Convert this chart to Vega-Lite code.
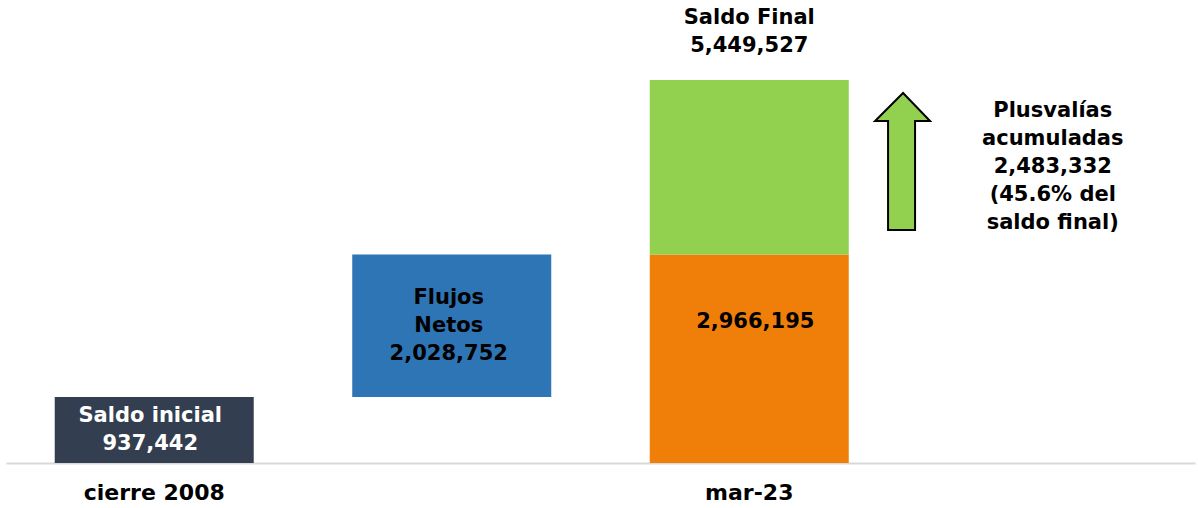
{
  "$schema": "https://vega.github.io/schema/vega-lite/v6.json",
  "width": 1189,
  "height": 463,
  "autosize": {"type": "none"},
  "padding": {"left": 6, "top": 0, "right": 3, "bottom": 45},
  "background": "white",
  "config": {
    "view": {"stroke": null},
    "font": "DejaVu Sans",
    "text": {"font": "DejaVu Sans", "fontWeight": "bold", "fontSize": 21, "lineHeight": 28, "baseline": "middle", "align": "center"}
  },
  "datasets": {
    "bars": [
      {"cat": "cierre 2008", "seg": "Saldo inicial", "start": 0, "end": 937442},
      {"cat": "flujos", "seg": "Flujos Netos", "start": 937442, "end": 2966194},
      {"cat": "mar-23", "seg": "Aportaciones netas", "start": 0, "end": 2966195},
      {"cat": "mar-23", "seg": "Plusvalías", "start": 2966195, "end": 5449527}
    ],
    "labels": [
      {"cat": "cierre 2008", "start": 0, "end": 937442, "text": "Saldo inicial\n937,442", "kind": "first"},
      {"cat": "flujos", "start": 937442, "end": 2966194, "text": "Flujos\nNetos\n2,028,752", "kind": "flows"},
      {"cat": "extra", "start": 2966195, "end": 5449527, "text": "Plusvalías\nacumuladas\n2,483,332\n(45.6% del\nsaldo final)", "kind": "side"},
      {"cat": "mar-23", "start": 0, "end": 2966195, "text": "2,966,195", "kind": "orange"},
      {"cat": "mar-23", "start": 5449527, "end": 5449527, "text": "Saldo Final\n5,449,527", "kind": "top"}
    ],
    "arrow": [
      {"cat": "extra", "start": 2966195, "end": 5449527}
    ]
  },
  "encoding": {
    "x": {
      "field": "cat",
      "type": "nominal",
      "sort": ["cierre 2008", "flujos", "mar-23", "extra"],
      "scale": {"domain": ["cierre 2008", "flujos", "mar-23", "extra"], "paddingInner": 0.3311, "paddingOuter": 0.1638},
      "axis": {
        "title": null,
        "domainColor": "#D9D9D9",
        "domainWidth": 2,
        "ticks": false,
        "grid": false,
        "labelAngle": 0,
        "labelFont": "DejaVu Sans",
        "labelFontWeight": "bold",
        "labelFontSize": 22,
        "labelColor": "black",
        "labelPadding": 19,
        "labelExpr": "datum.value == 'flujos' || datum.value == 'extra' ? '' : datum.value"
      }
    }
  },
  "layer": [
    {
      "data": {"name": "bars"},
      "mark": {"type": "bar", "width": {"band": 1}},
      "encoding": {
        "y": {"field": "start", "type": "quantitative", "scale": {"domain": [0, 6587830], "nice": false, "zero": true}, "axis": null},
        "y2": {"field": "end"},
        "color": {
          "field": "seg",
          "type": "nominal",
          "scale": {"domain": ["Saldo inicial", "Flujos Netos", "Aportaciones netas", "Plusvalías"], "range": ["#333F50", "#2E75B6", "#F07F09", "#92D050"]},
          "legend": null
        }
      }
    },
    {
      "data": {"name": "arrow"},
      "transform": [{"calculate": "(datum.start + datum.end) / 2", "as": "mid"}],
      "mark": {
        "type": "point",
        "filled": true,
        "fill": "#92D050",
        "stroke": "black",
        "strokeWidth": 2,
        "opacity": 1,
        "size": 10000,
        "shape": "M-2.874,-1.486L-2.334,-0.926L-2.634,-0.926L-2.634,1.254L-3.174,1.254L-3.174,-0.926L-3.434,-0.926Z"
      },
      "encoding": {
        "y": {"field": "mid", "type": "quantitative"}
      }
    },
    {
      "data": {"name": "labels"},
      "transform": [
        {"filter": "datum.kind == 'first'"},
        {"calculate": "(datum.start + datum.end) / 2", "as": "mid"}
      ],
      "mark": {"type": "text", "lineBreak": "\n", "dy": -14, "dx": -4, "color": "white"},
      "encoding": {
        "y": {"field": "mid", "type": "quantitative"},
        "text": {"field": "text"}
      }
    },
    {
      "data": {"name": "labels"},
      "transform": [
        {"filter": "datum.kind == 'flows'"},
        {"calculate": "(datum.start + datum.end) / 2", "as": "mid"}
      ],
      "mark": {"type": "text", "lineBreak": "\n", "dy": -28, "dx": -3, "color": "black"},
      "encoding": {
        "y": {"field": "mid", "type": "quantitative"},
        "text": {"field": "text"}
      }
    },
    {
      "data": {"name": "labels"},
      "transform": [
        {"filter": "datum.kind == 'side'"},
        {"calculate": "(datum.start + datum.end) / 2", "as": "mid"}
      ],
      "mark": {"type": "text", "lineBreak": "\n", "dy": -56, "dx": 6, "color": "black"},
      "encoding": {
        "y": {"field": "mid", "type": "quantitative"},
        "text": {"field": "text"}
      }
    },
    {
      "data": {"name": "labels"},
      "transform": [
        {"filter": "datum.kind == 'orange'"},
        {"calculate": "(datum.start + datum.end) / 2", "as": "mid"}
      ],
      "mark": {"type": "text", "lineBreak": "\n", "dy": -37, "dx": 6, "color": "black"},
      "encoding": {
        "y": {"field": "mid", "type": "quantitative"},
        "text": {"field": "text"}
      }
    },
    {
      "data": {"name": "labels"},
      "transform": [{"filter": "datum.kind == 'top'"}],
      "mark": {"type": "text", "lineBreak": "\n", "dy": -62, "color": "black"},
      "encoding": {
        "y": {"field": "end", "type": "quantitative"},
        "text": {"field": "text"}
      }
    }
  ]
}
